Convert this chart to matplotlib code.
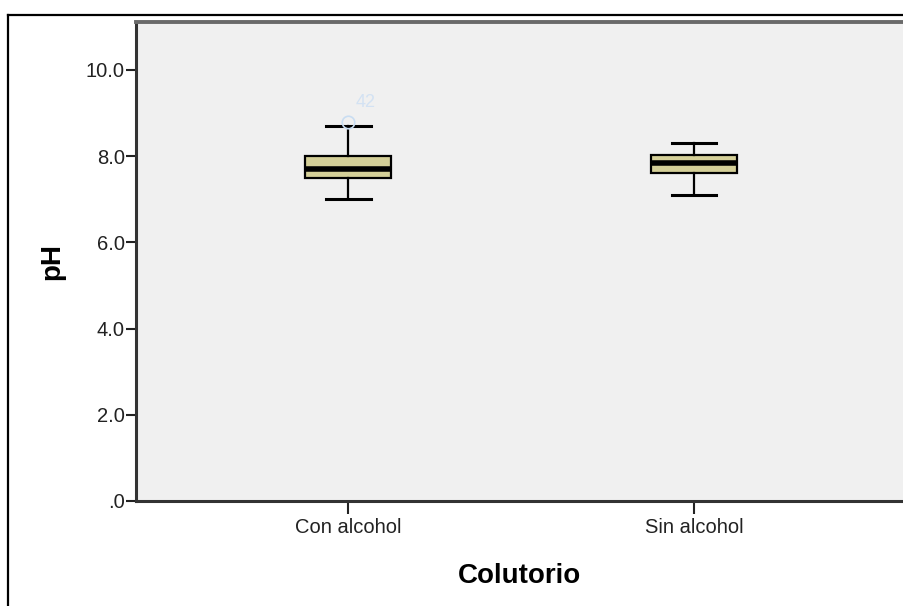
import matplotlib.pyplot as plt
from matplotlib.lines import Line2D

plt.rcParams['font.family'] = ['Liberation Sans', 'DejaVu Sans']

# Resumen de pH por tipo de colutorio
grupos = ['Con alcohol', 'Sin alcohol']
q1 = [7.48, 7.60]
mediana = [7.70, 7.85]
q3 = [8.00, 8.03]
bigote_inf = [7.00, 7.10]
bigote_sup = [8.70, 8.30]
atipicos = [[8.80], []]
etiquetas_atipicos = [['42'], []]

y_ticks = [0, 2, 4, 6, 8, 10]
y_tick_labels = ['.0', '2.0', '4.0', '6.0', '8.0', '10.0']

stats = []
for i, nombre in enumerate(grupos):
    stats.append({
        'label': nombre,
        'q1': q1[i], 'med': mediana[i], 'q3': q3[i],
        'whislo': bigote_inf[i], 'whishi': bigote_sup[i],
        'fliers': atipicos[i],
    })

fig = plt.figure(figsize=(9.04, 6.06), dpi=100)
ax = fig.add_axes([0.1504, 0.1733, 0.8496, 0.7904])
ax.set_facecolor('#F0F0F0')

ax.bxp(stats, positions=[1, 2], widths=0.25, capwidths=0.13, patch_artist=True,
       boxprops=dict(facecolor='#D4CF98', edgecolor='black', linewidth=1.6),
       medianprops=dict(color='black', linewidth=4, solid_capstyle='butt'),
       whiskerprops=dict(color='black', linewidth=1.6),
       capprops=dict(color='black', linewidth=2.2),
       flierprops=dict(marker='o', markersize=9, markerfacecolor='none',
                       markeredgecolor='#C9DDF2', markeredgewidth=1.2))

# número de caso junto al valor atípico
for i, (vals, etqs) in enumerate(zip(atipicos, etiquetas_atipicos)):
    for v, t in zip(vals, etqs):
        ax.annotate(t, (i + 1, v), textcoords='offset points', xytext=(13, 14),
                    ha='center', va='center', fontsize=13, color='#D3E2F3')

ax.set_xlim(0.387, 2.607)
ax.set_ylim(0, 11.11)
ax.set_yticks(y_ticks)
ax.set_yticklabels(y_tick_labels)
ax.set_xticks([1, 2])
ax.set_xticklabels(grupos)
ax.tick_params(axis='both', labelsize=14.5, colors='#222222', width=1.5, length=7, pad=1)
ax.tick_params(axis='x', length=9, pad=3)

ax.set_ylabel('pH', fontsize=20, fontweight='bold', labelpad=15)
ax.set_xlabel('Colutorio', fontsize=20, fontweight='bold', labelpad=19)

for lado in ['left', 'bottom']:
    ax.spines[lado].set_color('#333333')
    ax.spines[lado].set_linewidth(2.2)
ax.spines['top'].set_color('#6A6A6A')
ax.spines['top'].set_linewidth(2.8)
ax.spines['right'].set_color('#CCCCCC')
ax.spines['right'].set_linewidth(1)

# marco exterior del gráfico
fig.add_artist(Line2D([0.0088, 0.0088], [0.0, 0.9752], color='black', linewidth=1.6))
fig.add_artist(Line2D([0.0088, 1.0], [0.9752, 0.9752], color='black', linewidth=1.6))

fig.savefig('out.png', dpi=100)
